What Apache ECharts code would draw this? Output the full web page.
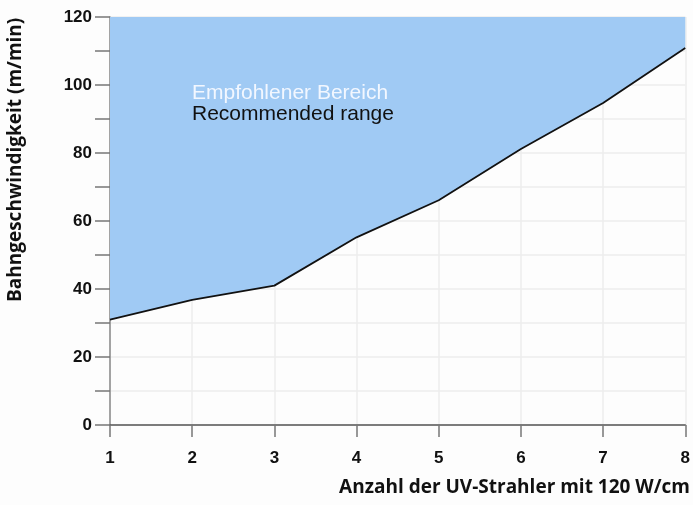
<!DOCTYPE html>
<html>
<head>
<meta charset="utf-8">
<script src="https://cdn.jsdelivr.net/npm/echarts@6/dist/echarts.min.js"></script>
<style>
html,body{margin:0;padding:0;background:#fdfdfd;}
#chart{width:693px;height:505px;}
</style>
</head>
<body>
<div id="chart"></div>
<script>
// Data
const lampCounts = [1, 2, 3, 4, 5, 6, 7, 8];
const webSpeed = [31, 36.8, 41, 55.2, 66.1, 81.2, 94.7, 110.9];
const yTickLabels = [0, 20, 40, 60, 80, 100, 120];
const xTitle = 'Anzahl der UV-Strahler mit 120 W/cm';
const yTitle = 'Bahngeschwindigkeit (m/min)';
const noteDe = 'Empfohlener Bereich';
const noteEn = 'Recommended range';

const chart = echarts.init(document.getElementById('chart'), null, {renderer: 'canvas'});
const option = {
  backgroundColor: '#fdfdfd',
  animation: false,
  grid: {left: 110, right: 5, top: 17, bottom: 80, containLabel: false},
  xAxis: {
    type: 'value', min: 1, max: 8, interval: 1,
    axisLine: {show: true, lineStyle: {color: '#555', width: 1.5}},
    axisTick: {show: true, length: 12, lineStyle: {color: '#777', width: 1.5}},
    axisLabel: {margin: 25, color: '#111', fontSize: 17, fontWeight: 'bold', fontFamily: 'Liberation Sans'},
    splitLine: {show: true, lineStyle: {color: '#ececec', width: 1.5}}
  },
  yAxis: {
    type: 'value', min: 0, max: 120, interval: 10,
    axisLine: {show: true, lineStyle: {color: '#888', width: 1.5}},
    axisTick: {show: true, length: 15, lineStyle: {color: '#777', width: 1.5}},
    axisLabel: {
      margin: 18, color: '#111', fontSize: 17, fontWeight: 'bold', fontFamily: 'Liberation Sans',
      formatter: v => yTickLabels.indexOf(v) >= 0 ? String(v) : ''
    },
    splitLine: {show: true, lineStyle: {color: '#ececec', width: 1.5}}
  },
  series: [{
    type: 'line',
    data: lampCounts.map((x, i) => [x, webSpeed[i]]),
    symbol: 'none',
    lineStyle: {color: '#111', width: 1.8},
    areaStyle: {origin: 'end', color: '#a0caf4', opacity: 1},
    z: 3
  }],
  graphic: [
    {type: 'text', left: 192, top: 83, z: 10,
     style: {text: noteDe, fill: '#f2f7ff', font: '21px "Liberation Sans"'}},
    {type: 'text', left: 192, top: 104, z: 10,
     style: {text: noteEn, fill: '#111', font: '21px "Liberation Sans"'}},
    {type: 'text', right: 3, top: 478, z: 10,
     style: {text: xTitle, fill: '#111', font: 'bold 19px "Open Sans"'}},
    {type: 'text', x: 6, y: 302, rotation: Math.PI / 2, z: 10,
     style: {text: yTitle, fill: '#111', font: 'bold 19px "Open Sans"', textAlign: 'left', textVerticalAlign: 'top'}}
  ]
};
chart.setOption(option);
</script>
</body>
</html>
